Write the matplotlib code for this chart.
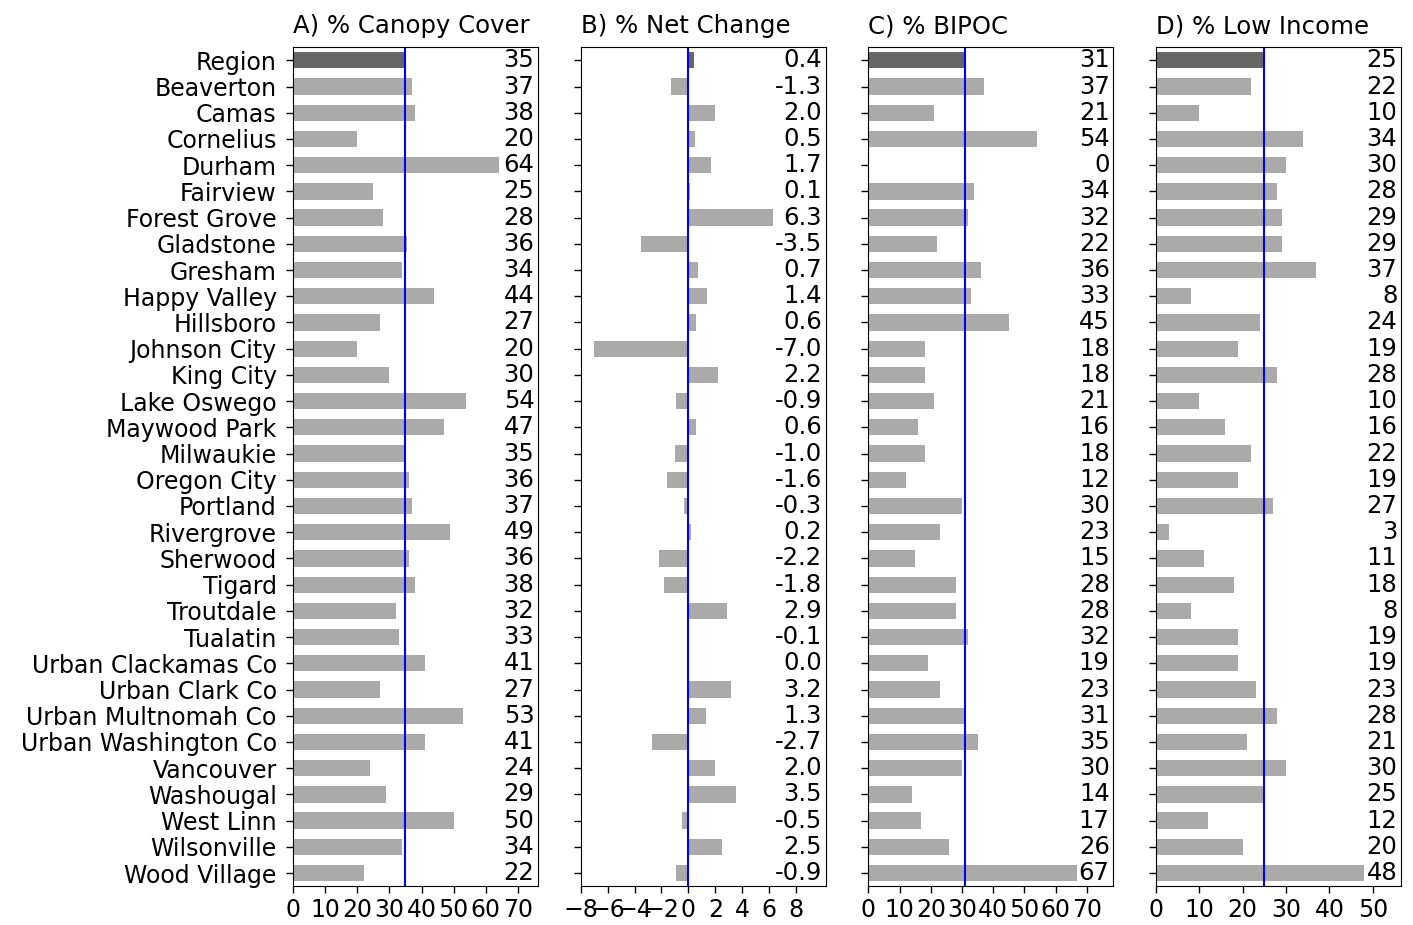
import numpy as np
import matplotlib
matplotlib.use("Agg")
import matplotlib.pyplot as plt
import matplotlib.transforms as mtransforms

names = ["Region", "Beaverton", "Camas", "Cornelius", "Durham", "Fairview",
         "Forest Grove", "Gladstone", "Gresham", "Happy Valley", "Hillsboro",
         "Johnson City", "King City", "Lake Oswego", "Maywood Park", "Milwaukie",
         "Oregon City", "Portland", "Rivergrove", "Sherwood", "Tigard",
         "Troutdale", "Tualatin", "Urban Clackamas Co", "Urban Clark Co",
         "Urban Multnomah Co", "Urban Washington Co", "Vancouver", "Washougal",
         "West Linn", "Wilsonville", "Wood Village"]

canopy = [35, 37, 38, 20, 64, 25, 28, 35.6, 34, 44, 27, 20, 30, 54, 47, 35,
          36, 37, 49, 36, 38, 32, 33, 41, 27, 53, 41, 24, 29, 50, 34, 22]
net_change = [0.4, -1.3, 2.0, 0.5, 1.7, 0.1, 6.3, -3.5, 0.7, 1.4, 0.6, -7.0,
              2.2, -0.9, 0.6, -1.0, -1.6, -0.3, 0.2, -2.2, -1.8, 2.9, -0.1,
              0.0, 3.2, 1.3, -2.7, 2.0, 3.5, -0.5, 2.5, -0.9]
bipoc = [31, 37, 21, 54, 0, 34, 32, 22, 36, 33, 45, 18, 18, 21, 16, 18, 12,
         30, 23, 15, 28, 28, 32, 19, 23, 31, 35, 30, 14, 17, 26, 67]
low_income = [25, 22, 10, 34, 30, 28, 29, 29, 37, 8, 24, 19, 28, 10, 16, 22,
              19, 27, 3, 11, 18, 8, 19, 19, 23, 28, 21, 30, 25, 12, 20, 48]

titles = ["A) % Canopy Cover", "B) % Net Change", "C) % BIPOC", "D) % Low Income"]
series = [canopy, net_change, bipoc, low_income]
fmts = ["{:.0f}", "{:.1f}", "{:.0f}", "{:.0f}"]
xlims = [(0, 76.3), (-8, 10.2), (0, 78.5), (0, 56.5)]
xticks = [np.arange(0, 71, 10), np.arange(-8, 9, 2), np.arange(0, 71, 10), np.arange(0, 51, 10)]
ref_lines = [canopy[0], 0, bipoc[0], low_income[0]]

plt.rcParams["font.size"] = 17

fig, axes = plt.subplots(1, 4, figsize=(14.13, 9.25), dpi=100)
plt.subplots_adjust(left=0.2074, right=0.9915, bottom=0.042, top=0.949, wspace=0.174)

y = np.arange(len(names))
colors = ["#666666"] + ["#aaaaaa"] * (len(names) - 1)

for i, ax in enumerate(axes):
    vals = series[i]
    ax.barh(y, vals, height=0.62, color=colors)
    ax.axvline(ref_lines[i], color="blue", lw=1.5)
    trans = mtransforms.blended_transform_factory(ax.transAxes, ax.transData)
    for yy, v in zip(y, vals):
        ax.text(0.985, yy, fmts[i].format(v), transform=trans,
                ha="right", va="center", fontsize=17.5)
    ax.set_ylim(len(names) - 0.5, -0.5)
    ax.set_xlim(*xlims[i])
    ax.set_xticks(xticks[i])
    ax.set_yticks(y)
    if i == 0:
        ax.set_yticklabels(names)
    else:
        ax.set_yticklabels([])
    ax.tick_params(length=4.8, width=1.0)
    ax.tick_params(axis="y", pad=7)
    ax.set_title(titles[i], loc="left", fontsize=17.6, pad=10)

fig.savefig("out.png", dpi=100)
